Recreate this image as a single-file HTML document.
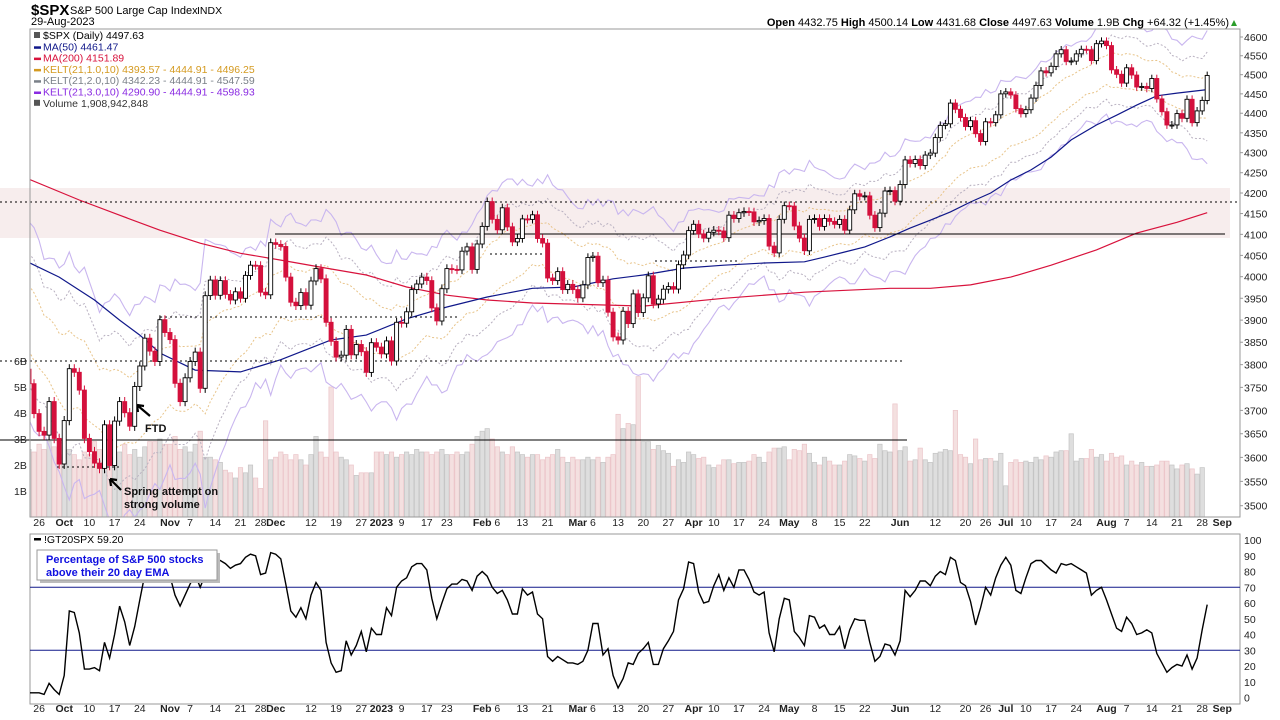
<!DOCTYPE html>
<html><head><meta charset="utf-8">
<style>
html,body{margin:0;padding:0;background:#fff;}
svg{display:block;font-family:"Liberation Sans",Arial,sans-serif;}
</style></head>
<body>
<svg id="chart" width="1280" height="720" viewBox="0 0 1280 720" xmlns="http://www.w3.org/2000/svg">
  <rect x="0" y="0" width="1280" height="720" fill="#fff"/>
  <!-- Header -->
  <text x="31" y="15" font-size="15" font-weight="bold">$SPX</text>
  <text x="70" y="14" font-size="11">S&amp;P 500 Large Cap Index</text>
  <text x="197" y="14" font-size="10.5">INDX</text>
  <text x="31" y="25" font-size="11">29-Aug-2023</text>
  <text x="1229" y="26" font-size="11" text-anchor="end"><tspan font-weight="bold">Open</tspan> 4432.75  <tspan font-weight="bold">High</tspan> 4500.14  <tspan font-weight="bold">Low</tspan> 4431.68  <tspan font-weight="bold">Close</tspan> 4497.63  <tspan font-weight="bold">Volume</tspan> 1.9B  <tspan font-weight="bold">Chg</tspan> +64.32 (+1.45%)</text>
  <polygon points="1231,26 1237,26 1234,20" fill="#2a9d2a"/>

  <defs>
    <clipPath id="pclip"><rect x="30" y="29" width="1210" height="488"/></clipPath>
    <clipPath id="iclip"><rect x="30" y="534" width="1210" height="170"/></clipPath>
  </defs>

  <!-- Price panel -->
  <g id="pricePanel">
    <rect x="0" y="188" width="1230" height="50" fill="#f6eaea" opacity="0.85"/>
    <g id="volG" clip-path="url(#pclip)"></g>
    <g id="bandG" clip-path="url(#pclip)"></g>
    <g id="annG"></g>
    <g id="candleG" clip-path="url(#pclip)"></g>
    <rect x="30" y="29" width="1210" height="488" fill="none" stroke="#999" stroke-width="1"/>
    <g id="yAxisG"></g>
  </g>
  <g id="legendG"></g>
  <g id="xAxisG"></g>

  <!-- Indicator panel -->
  <g id="indPanel">
    <rect x="30" y="534" width="1210" height="170" fill="none" stroke="#999" stroke-width="1"/>
    <g id="indG" clip-path="url(#iclip)"></g>
    <g id="indAxisG"></g>
  </g>
</svg>
<script>
// ---------- DATA ----------
const closes = [3758,3693,
3655,3647,3719,3640,3586,
3678,3791,3783,3744,3640,3612,3588,3577,3669,3583,3677,3719,3695,3666,3752,3797,3859,3830,3807,3901,3872,
3856,3759,3719,3771,3807,3828,3748,3956,3992,3957,3991,3959,3946,3965,3950,4003,4027,4026,3964,3958,4080,
4076,4071,3999,3941,3933,3963,3934,3990,4019,3995,3895,3852,3817,3821,3879,3822,3845,3829,3783,3849,3839,
3824,3853,3808,3895,3893,3919,3970,3983,3999,3991,3928,3898,3972,4019,4017,4016,4060,4070,4017,4077,
4119,4179,4136,4111,4164,4118,4082,4090,4137,4136,4147,4090,4079,3997,3991,4012,3970,3982,3970,
3951,3981,4045,4048,3986,3992,3918,3862,3855,3920,3892,3960,3917,3951,4002,3937,3948,3971,3977,3971,4028,4051,4109,
4124,4101,4091,4105,4110,4108,4092,4146,4138,4152,4155,4154,4130,4133,4138,4072,4056,4136,4169,
4168,4120,4091,4061,4136,4138,4119,4138,4131,4124,4136,4110,4159,4198,4192,4193,4146,4116,4151,4205,4206,4180,
4221,4282,4273,4283,4268,4294,4299,4338,4369,4373,4426,4410,4389,4366,4381,4348,4328,4378,4376,4396,4450,
4455,4447,4412,4399,4409,4439,4472,4510,4505,4522,4555,4566,4535,4536,4555,4567,4566,4537,4582,4589,
4577,4513,4501,4478,4518,4499,4468,4469,4464,4490,4437,4404,4370,4370,4399,4387,4436,4376,4406,4433,4498];
const firstOpen = 3790;
const volumes = [2.6,2.5,2.8,2.6,2.9,2.7,2.3,2.4,2.6,2.4,2.2,2.5,
2.4,2.9,2.6,2.4,2.6,2.3,2.5,2.8,2.4,2.6,2.3,2.7,2.9,
2.9,3.0,2.8,2.8,3.1,2.6,2.7,2.5,2.8,3.3,2.3,
2.3,2.2,2.1,1.8,1.7,1.5,1.9,1.7,2.0,1.5,1.1,
3.7,2.2,2.3,2.5,2.4,2.2,2.4,2.2,2.0,2.4,3.1,2.5,2.3,5.0,
2.5,2.3,2.2,2.0,1.6,1.7,1.7,1.7,2.5,2.5,2.4,2.5,
2.3,2.4,2.5,2.4,2.6,2.5,2.5,2.4,2.5,2.6,2.4,2.4,2.5,2.4,2.5,2.8,3.1,
3.3,3.4,3.0,
2.7,2.5,2.4,2.7,2.5,2.4,2.3,2.4,2.4,2.2,2.3,2.4,2.6,2.3,2.1,2.3,2.2,2.2,2.3,2.2,2.3,2.1,2.3,2.4,
3.95,3.4,3.6,3.55,5.4,2.9,2.9,2.6,2.75,2.55,2.45,1.95,2.2,2.1,2.5,2.4,2.25,2.3,2.0,1.9,2.0,2.2,2.2,2.05,2.1,2.1,2.15,2.4,2.3,2.1,
2.5,2.65,2.65,2.7,2.2,2.6,2.55,2.8,2.45,2.1,2.0,2.3,2.15,2.0,2.0,2.15,2.4,2.35,2.25,2.15,2.4,2.25,2.8,2.55,2.5,4.35,2.55,2.7,2.15,2.2,
2.65,2.2,2.1,2.45,2.5,2.6,2.55,4.1,2.4,2.3,2.05,3.0,2.2,2.25,2.25,2.15,2.45,1.2,2.1,2.2,2.1,2.15,2.1,2.3,2.2,2.35,
2.3,2.5,2.55,2.55,3.2,2.15,2.25,2.25,2.6,2.3,2.4,2.15,2.45,2.3,2.35,2.0,2.15,2.0,2.1,1.95,1.95,2.0,2.15,
2.15,2.0,1.85,2.0,2.05,1.85,1.65,1.9];
const ma50Idx = [0,6,13,18,22,26,33,42,50,55,60,67,75,83,91,100,108,116,122,130,138,146,154,158,162,166,171,175,179,183,187,191,195,199,203,207,212,216,220,224,228,234];
const ma50Val = [4033,3999,3946,3900,3866,3826,3788,3784,3811,3833,3855,3866,3903,3930,3953,3973,3976,3995,4004,4020,4027,4032,4035,4046,4058,4070,4094,4115,4134,4154,4178,4200,4232,4257,4289,4332,4370,4395,4421,4445,4452,4461];
const ma200Idx = [0,10,18,26,34,42,50,59,67,75,83,91,100,122,138,154,171,179,187,195,203,212,220,228,234];
const ma200Val = [4234,4183,4146,4110,4079,4055,4039,4020,4004,3976,3957,3946,3939,3932,3950,3964,3973,3973,3981,3999,4027,4063,4103,4129,4152];
const gt20 = [3,3,3,2,9,5,2,14,55,54,41,18,18,19,17,35,25,40,58,48,33,45,62,78,86,84,80,78,77,65,
58,65,72,78,70,78,85,88,87,85,82,84,85,89,91,90,78,79,92,91,88,72,55,51,57,50,65,73,68,35,
22,16,17,36,27,33,42,29,44,40,40,57,52,70,74,76,83,85,85,81,63,50,60,69,72,72,75,74,68,77,
80,77,70,66,68,62,53,53,69,65,67,53,50,26,23,26,24,22,22,21,23,30,47,47,27,31,14,6,12,22,
21,28,31,35,21,21,31,36,42,62,69,86,85,67,60,61,71,78,68,76,70,81,81,75,67,65,67,41,29,50,
63,62,42,38,33,52,51,44,46,40,40,45,31,43,50,49,49,35,23,26,34,33,27,36,68,64,68,74,74,71,
77,80,78,89,87,73,71,61,46,57,70,65,76,84,89,84,68,66,76,85,87,87,84,81,79,85,84,85,83,81,
79,65,68,70,62,53,44,42,51,47,40,41,43,41,28,22,16,19,21,20,27,18,25,43,59];
const tickIdx = [2,7,12,17,22,28,32,37,42,46,49,56,61,66,70,74,79,83,90,93,98,103,109,112,117,122,127,132,136,141,146,151,156,161,166,173,180,186,190,194,198,203,208,214,218,223,228,233,237];
const tickLabels = ["26","Oct","10","17","24","Nov","7","14","21","28","Dec","12","19","27","2023","9","17","23","Feb","6","13","21","Mar","6","13","20","27","Apr","10","17","24","May","8","15","22","Jun","12","20","26","Jul","10","17","24","Aug","7","14","21","28","Sep"];
const priceTicks = [4600,4550,4500,4450,4400,4350,4300,4250,4200,4150,4100,4050,4000,3950,3900,3850,3800,3750,3700,3650,3600,3550,3500];
const volTicks = [1,2,3,4,5,6];
const indTicks = [100,90,80,70,60,50,40,30,20,10,0];

// ---------- SCALES ----------
const NS = "http://www.w3.org/2000/svg";
function xOf(i){ return 29 + i*5.035; }
function yP(v){ return 37 + (Math.log(4600) - Math.log(v))*1715; }
function yV(b){ return 517 - b*26; }
function yI(v){ return 697.5 - v*1.575; }
function mk(parent, tag, attrs){
  const e = document.createElementNS(NS, tag);
  for (const k in attrs) e.setAttribute(k, attrs[k]);
  parent.appendChild(e);
  return e;
}
const gVol = document.getElementById('volG');
const gBand = document.getElementById('bandG');
const gAnn = document.getElementById('annG');
const gC = document.getElementById('candleG');
const gY = document.getElementById('yAxisG');
const gX = document.getElementById('xAxisG');
const gL = document.getElementById('legendG');
const gI = document.getElementById('indG');
const gIA = document.getElementById('indAxisG');

// Volume bars
volumes.forEach((v,i)=>{
  const up = i===0 ? true : closes[i] >= closes[i-1];
  const r = mk(gVol,'rect',{x:(xOf(i)-2.2).toFixed(1), y:yV(v).toFixed(1), width:4.4, height:(v*26).toFixed(1),
    fill: up ? '#dedede' : '#f4e0e0', stroke: up ? '#c4c4c4' : '#ebc4c8', 'stroke-width':0.7});
  
  
});

// Keltner channels (EMA21 +/- m*ATR10)
const wick = 10;
let ema = 3920, atr = 80;
const kc = [], ka = [];
closes.forEach((c,i)=>{
  const o = i===0 ? firstOpen : closes[i-1];
  const tr = Math.abs(c-o) + 2*wick;
  ema = ema + (c-ema)*2/22;
  atr = atr + (tr-atr)*2/11;
  kc.push(ema); ka.push(atr);
});
function bandPath(m){
  return kc.map((c,i)=>(i?'L':'M')+xOf(i).toFixed(1)+','+yP(c+m*ka[i]).toFixed(1)).join(' ');
}
[[3,'#c9b6ef','none',1.1,'kelt-3-upper'],[-3,'#c9b6ef','none',1.1,'kelt-3-lower'],
 [2,'#b8b0c0','2,2',1,'kelt-2-upper'],[-2,'#b8b0c0','2,2',1,'kelt-2-lower'],
 [1,'#e8c48a','2,2',1,'kelt-1-upper'],[-1,'#e8c48a','2,2',1,'kelt-1-lower']].forEach(b=>{
  const p = mk(gBand,'path',{d:bandPath(b[0]), fill:'none', stroke:b[1], 'stroke-width':b[3], 'stroke-dasharray':b[2]});
  
  
});

// Moving averages
function maPath(ix, vals){ return ix.map((i,k)=>(k?'L':'M')+xOf(i).toFixed(1)+','+yP(vals[k]).toFixed(1)).join(' '); }
const m200 = mk(gBand,'path',{d:maPath(ma200Idx, ma200Val), fill:'none', stroke:'#d8123c', 'stroke-width':1.2});


const m50 = mk(gBand,'path',{d:maPath(ma50Idx, ma50Val), fill:'none', stroke:'#10188a', 'stroke-width':1.2});



// Annotation lines
[[0,1240,202,'2,3','support-dotted-4180'],[275,1225,234,'none','resistance-line-4100'],
 [0,903,361,'2,3','dotted-line-3830'],[0,907,440,'none','support-line-3650'],
 [57,120,467,'2,3','dotted-line-spring'],[160,460,317,'2,3','dotted-line-3930'],
 [490,545,254,'2,3','dotted-line-feb'],[655,740,261,'2,3','dotted-line-apr']].forEach(l=>{
  const e = mk(gAnn,'line',{x1:l[0], x2:l[1], y1:l[2], y2:l[2], stroke:'#000', 'stroke-width':1, 'stroke-dasharray':l[3]});
  
  
});

// Candles
closes.forEach((c,i)=>{
  const o = i===0 ? firstOpen : closes[i-1];
  const up = c >= o;
  const x = xOf(i);
  const hi = Math.max(o,c)+wick, lo = Math.min(o,c)-wick;
  const col = up ? '#000' : '#d4103c';
  const g = mk(gC,'g',{});
  
  
  mk(g,'line',{x1:x.toFixed(1), x2:x.toFixed(1), y1:yP(hi).toFixed(1), y2:yP(lo).toFixed(1), stroke:col, 'stroke-width':1});
  const yt = yP(Math.max(o,c)), yb = yP(Math.min(o,c));
  mk(g,'rect',{x:(x-2).toFixed(1), y:yt.toFixed(1), width:4, height:Math.max(1,yb-yt).toFixed(1),
    fill: up ? '#fff' : col, stroke: col, 'stroke-width':0.9});
});

// Price axis labels
priceTicks.forEach(v=>{
  const t = mk(gY,'text',{x:1244, y:(yP(v)+4).toFixed(1), 'font-size':10.5, fill:'#222'});
  t.textContent = v;
  
  
  mk(gY,'line',{x1:1240,x2:1243,y1:yP(v),y2:yP(v),stroke:'#999'});
});
volTicks.forEach(b=>{
  const t = mk(gY,'text',{x:14, y:(yV(b)+4).toFixed(1), 'font-size':10.5, fill:'#222'});
  t.textContent = b+'B';
  
  
});

// Date axes
[[526,'price-date-label'],[712,'indicator-date-label']].forEach(a=>{
  tickIdx.forEach((i,k)=>{
    const lab = tickLabels[k];
    const bold = /[A-Za-z]/.test(lab) || lab==='2023';
    const t = mk(gX,'text',{x:xOf(i).toFixed(1), y:a[0], 'font-size':10.5, 'text-anchor':'middle', 'font-weight': bold?'bold':'normal', fill:'#222'});
    t.textContent = lab;
    
    
  });
});

// Legend
const legend = [
  ['$SPX (Daily) 4497.63','#000','legend-spx'],
  ['MA(50) 4461.47','#10188a','legend-ma50'],
  ['MA(200) 4151.89','#d8123c','legend-ma200'],
  ['KELT(21,1.0,10) 4393.57 - 4444.91 - 4496.25','#d49a20','legend-kelt1'],
  ['KELT(21,2.0,10) 4342.23 - 4444.91 - 4547.59','#7a8088','legend-kelt2'],
  ['KELT(21,3.0,10) 4290.90 - 4444.91 - 4598.93','#8a2be2','legend-kelt3'],
  ['Volume 1,908,942,848','#333','legend-volume']];
legend.forEach((L,k)=>{
  const y = 39 + k*11.3;
  const g = mk(gL,'g',{});
  
  
  if (k>0 && k<6) mk(g,'rect',{x:34, y:y-4, width:7, height:2.5, fill:L[1]});
  else mk(g,'rect',{x:34, y:y-7, width:6, height:6, fill:'#555'});
  const t = mk(g,'text',{x:43, y:y, 'font-size':10.5, fill:L[1]});
  t.textContent = L[0];
});

// Text annotations
function note(x,y,txt,name){
  const t = mk(gAnn,'text',{x:x,y:y,'font-size':11,'font-weight':'bold',fill:'#111'});
  t.textContent = txt;
  
  
}
note(145,432,'FTD','ftd-annotation');
note(124,495,'Spring attempt on','spring-annotation-line1');
note(124,508,'strong volume','spring-annotation-line2');
const a1 = mk(gAnn,'path',{d:'M150,416 L137,405 M137,405 L144,406 M137,405 L138,412', stroke:'#000','stroke-width':2.2, fill:'none'});


const a2 = mk(gAnn,'path',{d:'M121,490 L110,479 M110,479 L117,480 M110,479 L111,486', stroke:'#000','stroke-width':2.2, fill:'none'});



// Indicator panel
[[70,'overbought-line-70'],[30,'oversold-line-30']].forEach(h=>{
  const e = mk(gI,'line',{x1:30,x2:1240,y1:yI(h[0]),y2:yI(h[0]),stroke:'#10188a','stroke-width':1});
  
  
});
const gl = mk(gI,'path',{d:gt20.map((v,i)=>(i?'L':'M')+xOf(i).toFixed(1)+','+yI(v).toFixed(1)).join(' '), fill:'none', stroke:'#000','stroke-width':1.4});


indTicks.forEach(v=>{
  const t = mk(gIA,'text',{x:1244, y:(yI(v)+4).toFixed(1), 'font-size':10.5, fill:'#222'});
  t.textContent = v;
  
  
});
const il = mk(gIA,'text',{x:44,y:543,'font-size':10.5,fill:'#000'});
il.textContent = '!GT20SPX 59.20';


mk(gIA,'rect',{x:34,y:538,width:7,height:2.5,fill:'#000'});
mk(gIA,'rect',{x:40,y:553,width:180,height:30,fill:'#bbb'});
const box = mk(gIA,'rect',{x:37,y:550,width:180,height:30,fill:'#fff',stroke:'#999'});


const n1 = mk(gIA,'text',{x:46,y:563,'font-size':11,'font-weight':'bold',fill:'#1010e0'});
n1.textContent = 'Percentage of S&P 500 stocks';


const n2 = mk(gIA,'text',{x:46,y:576,'font-size':11,'font-weight':'bold',fill:'#1010e0'});
n2.textContent = 'above their 20 day EMA';


</script>
</body></html>
